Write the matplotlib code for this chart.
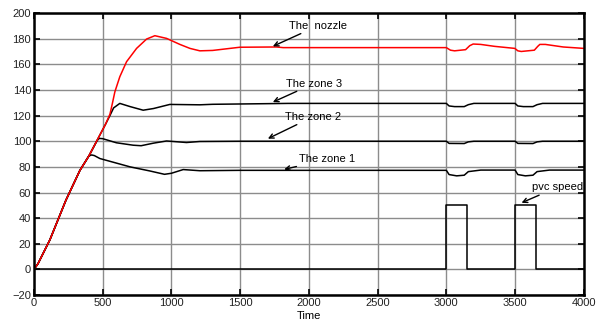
import matplotlib
matplotlib.use("Agg")
import matplotlib.pyplot as plt

plt.rcParams['font.family'] = ['Liberation Sans', 'DejaVu Sans']

# ---- data ----
ramp_t = [0, 30, 116, 233, 335, 400]
ramp_v = [0, 4.5, 23, 54, 77.3, 88.5]

nozzle_t = ramp_t + [461, 520, 553, 570, 589, 625, 674, 747, 820, 880, 965, 1062, 1135, 1207, 1300,
                     1498, 1765, 1813, 3000, 3030, 3060, 3140, 3170, 3195, 3250, 3350, 3498, 3520,
                     3545, 3640, 3665, 3680, 3720, 3850, 4000]
nozzle_v = ramp_v + [101, 113, 121, 129, 138.5, 150.3, 162, 172.4, 179.7, 182.3, 180.2, 175.5, 172.4, 170.5, 170.8,
                     173.3, 173.5, 173, 173, 171, 170.5, 171.4, 174.5, 175.8, 175.5, 174, 172.4, 170.5,
                     170, 171, 174, 175.5, 175.5, 173.5, 172.4]

zone3_t = ramp_t + [461, 520, 553, 580, 625, 700, 795, 870, 989, 1207, 1300, 1700, 1850, 3000, 3020, 3060,
                    3130, 3160, 3200, 3500, 3520, 3560, 3630, 3660, 3700, 4000]
zone3_v = ramp_v + [101, 113, 120, 126, 129.5, 127, 124.2, 125.5, 128.7, 128.4, 128.8, 129.3, 129.5, 129.5,
                    127.5, 127, 127, 128.5, 129.5, 129.5, 127.5, 127, 127, 128.5, 129.5, 129.5]

zone2_t = ramp_t + [440, 460, 475, 500, 600, 722, 780, 870, 965, 1050, 1110, 1207, 1500, 3000, 3020, 3130,
                    3160, 3200, 3500, 3520, 3630, 3660, 3700, 4000]
zone2_v = ramp_v + [96.5, 100.5, 102.2, 102, 98.8, 96.9, 96.5, 98.5, 100.2, 99.5, 99, 99.8, 100, 100, 98.3, 98.2,
                    99.5, 100, 100, 98.3, 98.2, 99.5, 100, 100]

zone1_t = ramp_t + [420, 440, 480, 700, 844, 950, 1000, 1086, 1207, 1500, 3000, 3020, 3075, 3130, 3160, 3250,
                    3500, 3520, 3575, 3630, 3660, 3750, 4000]
zone1_v = ramp_v + [89.3, 88.8, 86.5, 80, 76.8, 74.2, 75, 77.9, 77, 77.3, 77.3, 74, 73, 73.5, 76.3, 77.5,
                    77.5, 74, 73, 73.5, 76.3, 77.5, 77.5]

pvc_t = [0, 3000, 3000, 3150, 3150, 3500, 3500, 3650, 3650, 4000]
pvc_v = [0, 0, 50, 50, 0, 0, 50, 50, 0, 0]

x_ticks = [0, 500, 1000, 1500, 2000, 2500, 3000, 3500, 4000]
y_ticks = [-20, 0, 20, 40, 60, 80, 100, 120, 140, 160, 180, 200]

# ---- figure ----
fig = plt.figure(figsize=(6.05, 3.25), dpi=100)
ax = fig.add_axes([0.056, 0.092, 0.909, 0.868])

ax.plot(pvc_t, pvc_v, color='black', lw=1.1)
ax.plot(zone1_t, zone1_v, color='black', lw=1.1)
ax.plot(zone2_t, zone2_v, color='black', lw=1.1)
ax.plot(zone3_t, zone3_v, color='black', lw=1.1)
ax.plot(nozzle_t, nozzle_v, color='#ff0000', lw=1.1)

ax.set_xlim(0, 4000)
ax.set_ylim(-20, 200)
ax.set_xticks(x_ticks)
ax.set_yticks(y_ticks)
ax.grid(True, color='#8c8c8c', lw=1.0)
ax.set_axisbelow(True)
ax.tick_params(direction='in', length=4, width=1.2, labelsize=8, top=True, right=True, pad=2,
               colors='black', labelcolor='#222222')
for s in ax.spines.values():
    s.set_linewidth(1.8)
ax.set_xlabel('Time', fontsize=8, labelpad=2)

arrow = dict(arrowstyle='->', color='black', lw=1.0, shrinkA=0, shrinkB=0)
fs = 8
ax.annotate('The  nozzle', xy=(1738, 174), xytext=(1855, 190), fontsize=fs, arrowprops=arrow,
            va='center', ha='left')
ax.annotate('The zone 3', xy=(1738, 130.5), xytext=(1833, 145), fontsize=fs, arrowprops=arrow,
            va='center', ha='left')
ax.annotate('The zone 2', xy=(1702, 102), xytext=(1825, 119), fontsize=fs, arrowprops=arrow,
            va='center', ha='left')
ax.annotate('The zone 1', xy=(1820, 78), xytext=(1930, 86), fontsize=fs, arrowprops=arrow,
            va='center', ha='left')
ax.annotate('pvc speed', xy=(3547, 52), xytext=(3620, 64), fontsize=fs, arrowprops=arrow,
            va='center', ha='left')

fig.savefig('out.png', dpi=100)
